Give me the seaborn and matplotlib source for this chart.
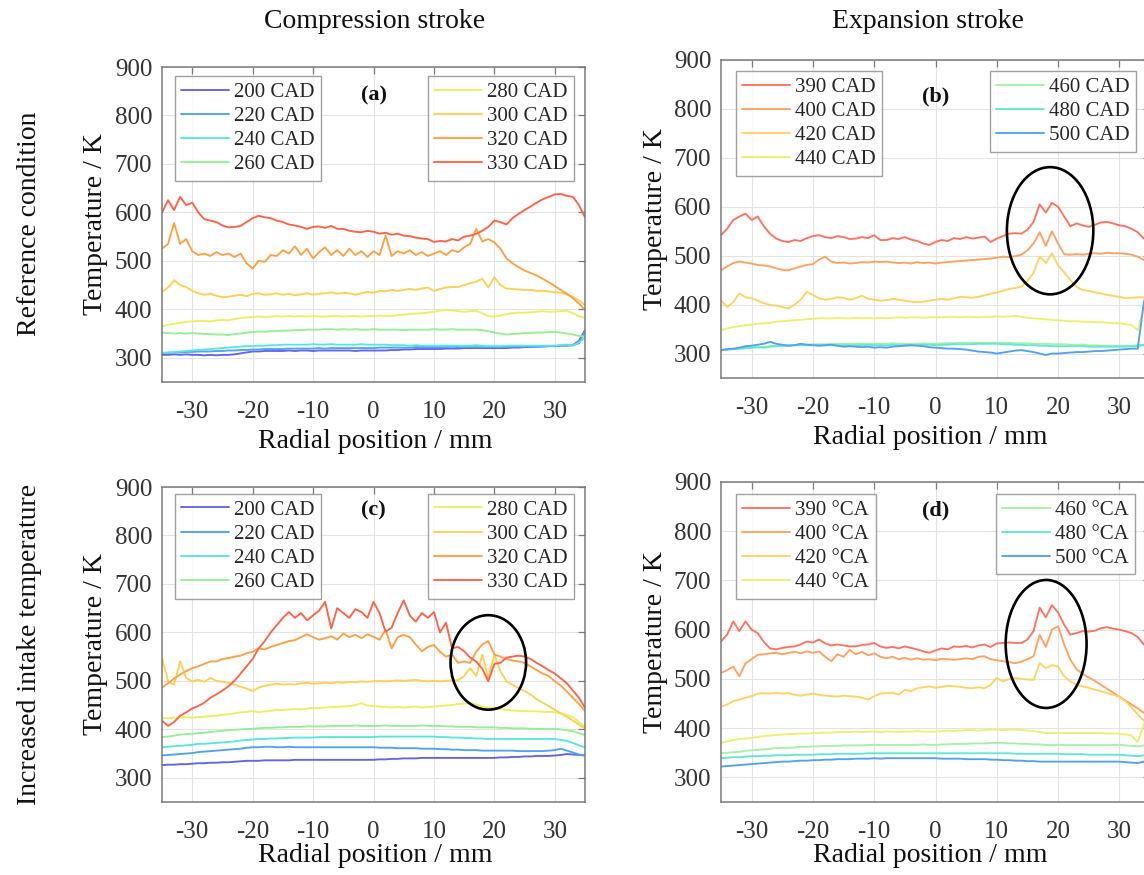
import numpy as np
import pandas as pd
import matplotlib
matplotlib.use("Agg")
import matplotlib.pyplot as plt
from matplotlib.lines import Line2D
from matplotlib.patches import Ellipse
import seaborn as sns

sns.set_theme(style="white")
plt.rcParams["font.family"] = ["Liberation Serif", "DejaVu Serif"]
plt.rcParams["axes.unicode_minus"] = False

# ---------------- data ----------------
radial_mm = list(range(-35, 36))

# (a) compression stroke, reference condition
a_labels = ["200 CAD", "220 CAD", "240 CAD", "260 CAD", "280 CAD", "300 CAD", "320 CAD", "330 CAD"]
a_200 = [306, 306, 307, 306, 307, 306, 306, 305, 306, 305,
         306, 306, 307, 309, 311, 313, 313, 314, 314, 314,
         314, 315, 314, 315, 315, 314, 315, 315, 315, 315,
         315, 315, 314, 315, 315, 315, 315, 315, 316, 316,
         317, 317, 318, 318, 318, 318, 318, 319, 319, 319,
         320, 320, 320, 320, 320, 320, 320, 320, 321, 321,
         322, 322, 323, 323, 324, 324, 325, 325, 326, 335,
         357]
a_220 = [310, 310, 311, 311, 312, 312, 313, 313, 313, 314,
         314, 315, 315, 316, 316, 317, 317, 318, 318, 318,
         318, 319, 319, 319, 319, 319, 320, 319, 320, 320,
         320, 320, 320, 320, 320, 320, 321, 321, 321, 321,
         321, 321, 322, 322, 322, 322, 322, 322, 323, 322,
         322, 322, 322, 322, 322, 322, 322, 322, 323, 323,
         323, 323, 323, 324, 324, 324, 325, 326, 326, 330,
         354]
a_240 = [310, 311, 312, 313, 314, 315, 316, 317, 318, 319,
         320, 321, 322, 323, 324, 324, 325, 325, 326, 326,
         327, 327, 327, 327, 327, 328, 327, 327, 328, 327,
         327, 327, 327, 328, 327, 327, 327, 327, 326, 326,
         326, 325, 326, 325, 325, 325, 325, 325, 325, 325,
         325, 325, 326, 325, 324, 324, 324, 325, 325, 325,
         325, 325, 325, 325, 325, 325, 326, 327, 325, 332,
         341]
a_260 = [352, 351, 350, 351, 350, 351, 350, 349, 349, 348,
         348, 347, 349, 350, 352, 353, 354, 354, 355, 355,
         356, 356, 357, 357, 358, 358, 358, 359, 359, 358,
         359, 358, 359, 358, 358, 359, 358, 358, 358, 358,
         357, 358, 358, 358, 358, 359, 358, 358, 359, 358,
         358, 358, 358, 357, 355, 352, 350, 348, 349, 350,
         351, 351, 352, 352, 353, 353, 352, 350, 348, 345,
         344]
a_280 = [365, 368, 370, 372, 374, 375, 376, 376, 375, 377,
         378, 377, 380, 382, 383, 384, 385, 384, 385, 386,
         385, 386, 385, 386, 385, 386, 385, 385, 386, 386,
         385, 386, 386, 385, 386, 386, 387, 386, 386, 388,
         389, 390, 391, 392, 393, 395, 397, 399, 398, 396,
         395, 396, 397, 392, 386, 385, 387, 390, 392, 393,
         393, 394, 395, 396, 395, 395, 396, 397, 392, 386,
         382]
a_300 = [436, 445, 460, 450, 446, 438, 433, 430, 432, 428,
         425, 426, 428, 430, 427, 432, 433, 430, 431, 433,
         430, 432, 429, 431, 433, 430, 432, 433, 435, 432,
         434, 433, 430, 433, 436, 434, 438, 437, 440, 438,
         440, 442, 440, 443, 445, 438, 442, 445, 446, 446,
         450, 454, 457, 463, 445, 466, 450, 443, 442, 441,
         440, 440, 438, 438, 437, 435, 434, 430, 426, 418,
         409]
a_320 = [525, 535, 578, 535, 545, 520, 512, 515, 510, 518,
         512, 515, 508, 515, 495, 484, 500, 498, 512, 510,
         522, 515, 530, 512, 525, 505, 518, 528, 512, 522,
         510, 525, 512, 520, 508, 520, 512, 552, 510, 520,
         515, 522, 512, 518, 510, 515, 520, 512, 522, 518,
         528, 535, 566, 540, 545, 538, 525, 505, 495, 487,
         480, 475, 470, 463, 456, 448, 440, 432, 423, 412,
         399]
a_330 = [600, 625, 605, 632, 615, 620, 600, 586, 583, 580,
         573, 569, 570, 572, 580, 588, 593, 590, 588, 583,
         580, 575, 573, 570, 566, 570, 571, 568, 572, 566,
         566, 562, 560, 559, 562, 560, 556, 558, 554, 556,
         552, 551, 548, 546, 545, 539, 541, 540, 545, 542,
         550, 552, 556, 562, 570, 583, 580, 575, 588, 597,
         605, 612, 620, 627, 632, 637, 638, 634, 632, 615,
         590]

# (b) expansion stroke, reference condition
b_labels = ["390 CAD", "400 CAD", "420 CAD", "440 CAD", "460 CAD", "480 CAD", "500 CAD"]
b_390 = [542, 555, 573, 580, 586, 573, 580, 560, 545, 535,
         530, 528, 532, 530, 536, 540, 542, 538, 536, 540,
         538, 534, 535, 538, 536, 542, 532, 532, 536, 534,
         538, 533, 530, 525, 522, 528, 532, 530, 536, 534,
         538, 535, 537, 539, 528, 535, 540, 545, 546, 545,
         553, 569, 605, 588, 608, 600, 580, 560, 566, 562,
         559, 563, 568, 569, 566, 562, 560, 555, 548, 535,
         525]
b_400 = [470, 478, 485, 488, 486, 484, 481, 480, 478, 474,
         471, 470, 474, 478, 481, 483, 492, 498, 488, 485,
         486, 484, 485, 487, 486, 488, 487, 488, 486, 485,
         486, 484, 487, 485, 486, 484, 486, 487, 488, 489,
         490, 491, 492, 493, 494, 496, 498, 497, 499, 502,
         511, 525, 548, 520, 550, 525, 503, 502, 503, 502,
         504, 505, 504, 506, 505, 505, 504, 502, 498, 491,
         488]
b_420 = [409, 395, 405, 423, 415, 413, 408, 403, 399, 398,
         395, 392, 400, 410, 426, 420, 413, 410, 412, 415,
         414, 410, 413, 418, 412, 410, 408, 409, 412, 410,
         408, 406, 405, 406, 408, 410, 412, 410, 413, 416,
         415, 414, 416, 419, 422, 425, 428, 432, 434, 437,
         448, 465, 498, 485, 505, 480, 466, 450, 436, 430,
         428, 425, 423, 420, 418, 416, 413, 414, 415, 415,
         414]
b_440 = [348, 351, 354, 356, 358, 359, 361, 362, 363, 365,
         366, 367, 368, 369, 370, 371, 372, 372, 372, 373,
         372, 372, 373, 372, 373, 372, 373, 372, 373, 374,
         373, 374, 374, 373, 374, 374, 374, 375, 375, 374,
         375, 375, 374, 375, 375, 376, 375, 376, 377, 375,
         373, 372, 371, 370, 369, 368, 367, 366, 366, 365,
         365, 364, 364, 363, 362, 362, 360, 358, 348, 395,
         440]
b_460 = [307, 308, 309, 310, 311, 312, 313, 314, 315, 316,
         316, 317, 317, 318, 318, 319, 319, 319, 320, 320,
         320, 320, 320, 320, 320, 320, 320, 320, 321, 320,
         320, 320, 320, 321, 320, 320, 321, 321, 321, 322,
         322, 322, 322, 322, 322, 322, 322, 322, 321, 321,
         321, 320, 320, 320, 319, 319, 319, 318, 318, 318,
         317, 317, 316, 316, 316, 315, 316, 316, 317, 317,
         318]
b_480 = [307, 308, 309, 310, 311, 312, 313, 312, 314, 315,
         316, 316, 317, 317, 317, 317, 317, 317, 317, 317,
         317, 317, 317, 317, 318, 317, 317, 317, 318, 317,
         317, 317, 317, 318, 318, 317, 318, 318, 319, 319,
         319, 319, 320, 320, 320, 320, 319, 319, 318, 318,
         317, 317, 316, 316, 315, 315, 315, 315, 315, 315,
         314, 314, 314, 314, 314, 314, 314, 315, 315, 318,
         320]
b_500 = [307, 309, 310, 312, 315, 316, 318, 320, 324, 320,
         318, 316, 317, 320, 318, 317, 316, 317, 318, 316,
         314, 315, 314, 313, 314, 312, 313, 312, 314, 315,
         316, 317, 316, 315, 313, 312, 311, 310, 310, 309,
         308, 306, 304, 303, 302, 300, 302, 304, 306, 307,
         305, 303, 300, 297, 300, 300, 301, 302, 303, 303,
         304, 305, 305, 306, 307, 308, 309, 310, 310, 405,
         450]

# (c) compression stroke, increased intake temperature
c_labels = a_labels
c_200 = [326, 327, 327, 328, 328, 329, 330, 330, 331, 331,
         332, 332, 333, 334, 335, 335, 335, 336, 336, 336,
         336, 336, 337, 337, 337, 337, 337, 337, 337, 337,
         337, 337, 337, 337, 337, 337, 338, 338, 339, 339,
         340, 340, 340, 341, 341, 341, 341, 341, 341, 341,
         341, 341, 341, 341, 341, 341, 342, 342, 343, 343,
         344, 344, 345, 345, 345, 346, 347, 349, 348, 347,
         346]
c_220 = [346, 347, 348, 349, 350, 351, 353, 354, 355, 356,
         357, 358, 359, 360, 362, 363, 363, 364, 364, 363,
         363, 364, 363, 363, 363, 363, 363, 363, 363, 363,
         363, 363, 363, 363, 363, 363, 362, 362, 362, 361,
         361, 361, 361, 360, 360, 360, 359, 359, 358, 358,
         357, 357, 357, 356, 356, 356, 356, 356, 356, 355,
         355, 355, 355, 355, 356, 357, 360, 356, 352, 348,
         346]
c_240 = [363, 364, 365, 366, 367, 368, 370, 370, 371, 372,
         373, 374, 375, 377, 378, 379, 380, 380, 381, 381,
         382, 382, 383, 383, 383, 383, 384, 384, 384, 384,
         384, 384, 384, 384, 384, 384, 385, 385, 385, 385,
         385, 385, 385, 385, 385, 385, 384, 384, 383, 383,
         382, 382, 381, 381, 380, 380, 380, 380, 380, 380,
         380, 380, 380, 380, 380, 380, 378, 376, 372, 367,
         363]
c_260 = [384, 385, 387, 389, 390, 391, 392, 393, 394, 396,
         397, 398, 399, 400, 401, 401, 402, 403, 403, 404,
         404, 405, 405, 405, 406, 406, 406, 406, 407, 407,
         407, 407, 408, 407, 407, 407, 407, 408, 407, 407,
         407, 407, 407, 408, 407, 407, 407, 406, 406, 405,
         405, 405, 404, 404, 404, 404, 403, 403, 402, 402,
         402, 401, 401, 401, 401, 401, 400, 398, 396, 392,
         388]
c_280 = [423, 423, 424, 424, 425, 424, 425, 426, 427, 428,
         430, 431, 433, 435, 436, 438, 435, 437, 438, 440,
         440, 441, 442, 441, 443, 444, 444, 445, 446, 446,
         447, 448, 450, 454, 449, 448, 447, 446, 445, 446,
         445, 446, 447, 445, 446, 447, 448, 449, 450, 452,
         453, 455, 451, 447, 445, 444, 442, 440, 439, 438,
         438, 437, 437, 436, 436, 435, 433, 430, 425, 415,
         404]
c_300 = [547, 499, 492, 540, 506, 499, 502, 498, 506, 500,
         498, 496, 492, 488, 484, 479, 486, 490, 492, 494,
         492, 493, 492, 495, 496, 494, 495, 496, 495, 497,
         496, 498, 497, 499, 498, 499, 500, 499, 500, 501,
         500, 501, 502, 500, 499, 500, 499, 500, 501, 501,
         510, 526, 510, 554, 506, 554, 520, 499, 492, 485,
         479, 472, 462, 455, 448, 440, 433, 426, 418, 410,
         401]
c_320 = [486, 495, 505, 513, 520, 526, 530, 535, 540, 540,
         545, 547, 550, 552, 557, 560, 567, 565, 570, 574,
         578, 582, 584, 590, 596, 590, 585, 588, 592, 585,
         598, 590, 595, 588, 596, 591, 585, 605, 567, 590,
         595, 590, 575, 561, 570, 574, 560, 550, 554, 537,
         540, 537, 560, 575, 582, 554, 550, 545, 542, 540,
         537, 530, 522, 515, 510, 499, 490, 478, 465, 452,
         438]
c_330 = [418, 407, 415, 428, 435, 443, 448, 455, 465, 472,
         480, 489, 500, 515, 530, 545, 567, 582, 600, 615,
         630, 642, 630, 640, 625, 635, 645, 663, 608, 650,
         640, 630, 648, 642, 630, 663, 640, 601, 610, 640,
         666, 635, 622, 640, 630, 642, 600, 620, 567, 570,
         561, 548, 540, 525, 499, 535, 537, 548, 550, 552,
         550, 545, 537, 530, 522, 515, 505, 495, 480, 465,
         445]

# (d) expansion stroke, increased intake temperature
d_labels = ["390 \u00b0CA", "400 \u00b0CA", "420 \u00b0CA", "440 \u00b0CA", "460 \u00b0CA", "480 \u00b0CA", "500 \u00b0CA"]
d_390 = [576, 590, 617, 597, 617, 600, 593, 575, 562, 560,
         563, 565, 566, 570, 576, 574, 580, 572, 568, 570,
         568, 566, 566, 569, 570, 573, 566, 563, 565, 562,
         566, 563, 560, 556, 553, 558, 562, 560, 566, 565,
         567, 564, 568, 570, 565, 572, 573, 574, 573, 573,
         580, 597, 645, 625, 650, 635, 610, 590, 593, 597,
         596, 598, 603, 605, 602, 600, 597, 593, 585, 570,
         562]
d_400 = [512, 518, 525, 505, 532, 540, 549, 550, 552, 553,
         550, 553, 555, 552, 556, 553, 556, 545, 536, 550,
         545, 559, 550, 555, 548, 552, 545, 542, 545, 540,
         543, 539, 542, 539, 540, 538, 541, 540, 539, 540,
         542, 540, 545, 546, 540, 538, 536, 534, 532, 535,
         540, 546, 590, 565, 600, 607, 570, 539, 520, 510,
         503, 496, 488, 480, 472, 464, 456, 448, 440, 431,
         425]
d_420 = [444, 448, 455, 458, 462, 465, 470, 471, 470, 472,
         470, 471, 468, 466, 468, 470, 468, 466, 465, 464,
         466, 465, 464, 462, 458, 465, 470, 471, 472, 468,
         478, 475, 481, 483, 485, 482, 484, 486, 485, 484,
         482, 481, 483, 481, 488, 502, 495, 500, 502, 500,
         499, 498, 532, 522, 528, 525, 505, 495, 488, 485,
         482, 478, 475, 471, 468, 464, 455, 442, 428, 415,
         405]
d_440 = [370, 373, 376, 378, 379, 380, 382, 384, 385, 386,
         387, 388, 388, 389, 389, 390, 390, 391, 391, 392,
         392, 392, 393, 392, 393, 393, 392, 393, 393, 392,
         393, 393, 394, 393, 393, 393, 394, 395, 394, 395,
         396, 396, 395, 396, 397, 397, 396, 397, 397, 396,
         395, 394, 392, 390, 390, 390, 390, 390, 390, 390,
         390, 390, 390, 389, 389, 389, 387, 385, 372, 408,
         420]
d_460 = [349, 350, 351, 352, 354, 355, 356, 357, 358, 359,
         360, 360, 361, 362, 362, 363, 363, 364, 364, 364,
         365, 365, 365, 365, 366, 366, 366, 366, 366, 366,
         366, 366, 366, 367, 366, 366, 367, 367, 368, 368,
         368, 369, 369, 369, 370, 370, 370, 369, 369, 368,
         368, 367, 367, 366, 366, 366, 366, 366, 366, 366,
         366, 366, 366, 366, 366, 366, 365, 364, 363, 365,
         368]
d_480 = [339, 340, 341, 341, 342, 343, 343, 344, 344, 345,
         345, 345, 346, 346, 346, 346, 347, 347, 347, 348,
         348, 348, 348, 348, 349, 349, 349, 349, 349, 349,
         349, 349, 349, 349, 349, 349, 349, 349, 349, 349,
         349, 349, 349, 349, 349, 349, 349, 349, 348, 348,
         348, 348, 348, 348, 348, 348, 347, 347, 347, 347,
         346, 346, 346, 346, 346, 346, 345, 344, 343, 345,
         347]
d_500 = [322, 323, 324, 325, 326, 327, 328, 329, 330, 331,
         332, 332, 333, 334, 334, 335, 335, 336, 336, 337,
         337, 337, 338, 338, 338, 339, 338, 339, 339, 339,
         339, 339, 339, 339, 339, 339, 338, 338, 338, 338,
         337, 337, 337, 337, 336, 336, 335, 335, 334, 334,
         333, 333, 332, 332, 332, 332, 332, 332, 332, 332,
         332, 332, 332, 332, 332, 332, 331, 330, 329, 332,
         335]

# line colours (jet-like, as in the reference)
comp_colors = ["#6464e6", "#52a2f2", "#5ae6e0", "#96ee96", "#eaf062", "#ffd052", "#ffa044", "#ff6248"]
exp_colors = ["#ff7262", "#ffa262", "#ffd262", "#ecf070", "#a8f0a8", "#62e8d2", "#52a2f2"]

# ---------------- figure ----------------
W, H = 1144, 875
fig = plt.figure(figsize=(W / 100, H / 100), dpi=100)


def rect(left, right, top, bottom):
    return [left / W, 1 - bottom / H, (right - left) / W, (bottom - top) / H]


TXT = "#262626"
SPINE = "#7a7a7a"


def panel(ax_rect, labels, series, colors, split, tag, tag_y, leg_l, leg_r, ell=None):
    ax = fig.add_axes(ax_rect)
    frames = [pd.DataFrame({"r": radial_mm, "T": v, "cad": lab}) for lab, v in zip(labels, series)]
    df = pd.concat(frames, ignore_index=True)
    sns.lineplot(data=df, x="r", y="T", hue="cad", hue_order=labels,
                 palette=dict(zip(labels, colors)), estimator=None, sort=False,
                 legend=False, ax=ax, linewidth=1.35)
    ax.set_xlim(-35, 35)
    ax.set_ylim(250, 900)
    ax.set_xticks([-30, -20, -10, 0, 10, 20, 30])
    ax.set_yticks([300, 400, 500, 600, 700, 800, 900])
    ax.set_xlabel("")
    ax.set_ylabel("")
    ax.grid(True, color="#e3e3e3", linewidth=0.8)
    ax.set_axisbelow(True)
    for s in ax.spines.values():
        s.set_color(SPINE)
        s.set_linewidth(1.1)
    ax.tick_params(axis="both", which="both", direction="in", length=5, width=0.9,
                   color=SPINE, top=True, right=True, labelsize=18, labelcolor="#333333")
    ax.tick_params(axis="x", pad=14)
    ax.tick_params(axis="y", pad=7)
    handles = [Line2D([], [], color=c, linewidth=1.35) for c in colors]
    kw = dict(fontsize=15, frameon=True, fancybox=False, borderaxespad=0, handlelength=2.3,
              handletextpad=0.25, labelspacing=0.22, borderpad=0.3, labelcolor=TXT)
    l1 = ax.legend(handles[:split], labels[:split], loc="upper left", bbox_to_anchor=leg_l, **kw)
    l1.get_frame().set_edgecolor("#8a8a8a")
    l1.get_frame().set_linewidth(1.0)
    ax.add_artist(l1)
    l2 = ax.legend(handles[split:], labels[split:], loc="upper right", bbox_to_anchor=leg_r, **kw)
    l2.get_frame().set_edgecolor("#8a8a8a")
    l2.get_frame().set_linewidth(1.0)
    ax.text(0.5, tag_y, tag, transform=ax.transAxes, ha="center", va="center",
            fontsize=16, fontweight="bold", color="#111111")
    if ell is not None:
        ax.add_patch(Ellipse((ell[0], ell[1]), ell[2], ell[3], fill=False,
                             edgecolor="black", linewidth=1.9, zorder=5))
    return ax


# annotation ellipses: centre x (mm), centre T (K), width (mm), height (K)
ell_b = (18.7, 551, 14.1, 260)
ell_c = (19.0, 538, 12.5, 195)
ell_d = (18.05, 571, 13.2, 260)

axa = panel(rect(162, 585, 67, 382), a_labels, [a_200, a_220, a_240, a_260, a_280, a_300, a_320, a_330],
            comp_colors, 4, "(a)", 0.911, (0.031, 0.971), (0.974, 0.971))
axb = panel(rect(721, 1150, 60, 378), b_labels, [b_390, b_400, b_420, b_440, b_460, b_480, b_500],
            exp_colors, 4, "(b)", 0.885, (0.035, 0.965), (0.967, 0.965), ell_b)
axc = panel(rect(162, 585, 487, 802), c_labels, [c_200, c_220, c_240, c_260, c_280, c_300, c_320, c_330],
            comp_colors, 4, "(c)", 0.925, (0.031, 0.978), (0.974, 0.978), ell_c)
axd = panel(rect(721, 1150, 482, 802), d_labels, [d_390, d_400, d_420, d_440, d_460, d_480, d_500],
            exp_colors, 4, "(d)", 0.91, (0.035, 0.9625), (0.965, 0.9625), ell_d)


def ftext(x, y, s, rot=0, size=20):
    fig.text(x / W, 1 - y / H, s, ha="center", va="center", rotation=rot, fontsize=size, color="#111111")


ftext(375, 22, "Compression stroke")
ftext(928, 22, "Expansion stroke")
ftext(30, 224, "Reference condition", rot=90)
ftext(30, 644, "Increased intake temperature", rot=90)
ftext(96, 224, "Temperature / K", rot=90)
ftext(656, 219, "Temperature / K", rot=90)
ftext(96, 644, "Temperature / K", rot=90)
ftext(656, 642, "Temperature / K", rot=90)
ftext(375, 442, "Radial position / mm")
ftext(930, 438, "Radial position / mm")
ftext(375, 856, "Radial position / mm")
ftext(930, 856, "Radial position / mm")

fig.savefig("out.png", dpi=100)
